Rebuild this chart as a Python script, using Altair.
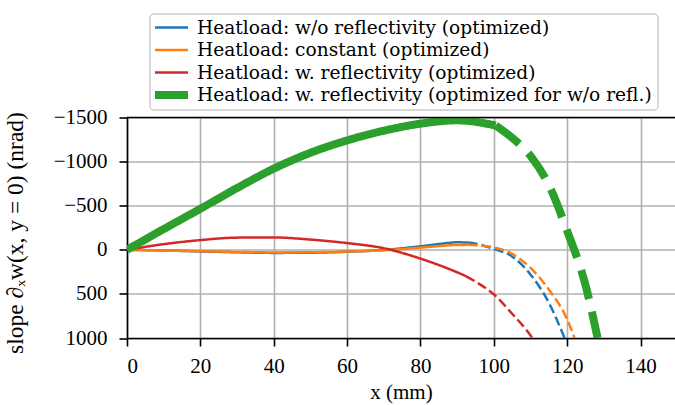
import altair as alt
import pandas as pd

# Series names, colours and line widths
SERIES = [
    "Heatload: w/o reflectivity (optimized)",
    "Heatload: constant (optimized)",
    "Heatload: w. reflectivity (optimized)",
    "Heatload: w. reflectivity (optimized for w/o refl.)",
]
COLORS = ["#1f77b4", "#ff7f0e", "#d62728", "#2ca02c"]
WIDTHS = [2.5, 2.5, 2.5, 8]
THICK = [False, False, False, True]

# Slope profiles along x (mm), values in nrad
blue_x = [0, 10, 20, 30, 40, 50, 60, 70, 80, 85, 90, 93, 95, 100, 105, 110, 115, 119.3]
blue_v = [0, 8, 18, 28, 35, 33, 22, 2, -40, -65, -85, -82, -70, -10, 75, 280, 600, 1000]

orange_x = [0, 10, 20, 30, 40, 50, 60, 70, 80, 85, 90, 93, 95, 100, 105, 110, 115, 120, 122]
orange_v = [0, 8, 16, 24, 30, 28, 20, 5, -25, -42, -55, -56, -52, -27, 45, 205, 450, 790, 1000]

red_x = [0, 10, 20, 30, 40, 50, 60, 70, 80, 90, 92.5, 95, 100, 105, 110, 110.5]
red_v = [0, -64, -110, -138, -140, -116, -76, -18, 100, 255, 300, 360, 505, 725, 970, 1000]

green_x = [0, 10, 20, 30, 40, 50, 60, 70, 80, 90, 100.5, 105, 110, 115, 120, 125, 128.3]
green_v = [0, -235, -465, -700, -920, -1100, -1240, -1350, -1430, -1468, -1410, -1270, -1065, -735, -215, 400, 1000]

# Solid inside the mirror footprint, dashed beyond it
SPLIT = [93, 93, 92.5, 100.5]

X_TICKS = [0, 20, 40, 60, 80, 100, 120, 140]
Y_TICKS = [-1500, -1000, -500, 0, 500, 1000]
X_MAX = 149.4

rows = []
for name, xs, vs, split, thick in zip(
    SERIES,
    [blue_x, orange_x, red_x, green_x],
    [blue_v, orange_v, red_v, green_v],
    SPLIT,
    THICK,
):
    kind = "thick" if thick else "thin"
    for x, v in zip(xs, vs):
        if x <= split:
            rows.append({"series": name, "x": x, "v": v, "style": "solid-" + kind})
        if x >= split:
            rows.append({"series": name, "x": x, "v": v, "style": "dash-" + kind})
df = pd.DataFrame(rows)

color_scale = alt.Scale(domain=SERIES, range=COLORS)
width_scale = alt.Scale(type="ordinal", domain=SERIES, range=WIDTHS)

x_enc = alt.X(
    "x:Q",
    scale=alt.Scale(domain=[0, X_MAX], nice=False, zero=False),
    axis=alt.Axis(values=X_TICKS, title="x (mm)", labelPadding=9,
                  titleX=274, titleY=60, titleBaseline="alphabetic"),
)
y_enc = alt.Y(
    "v:Q",
    scale=alt.Scale(domain=[-1500, 1000], reverse=True, nice=False, zero=False),
    axis=alt.Axis(values=Y_TICKS, format="d", title="slope ∂ₓw(x, y = 0) (nrad)",
                  labelPadding=12, titleX=-105, titleY=115, titleBaseline="alphabetic",
                  titleFontSize=23.5),
)

lines = alt.Chart(df).mark_line(interpolate="monotone", strokeCap="butt", clip=True).encode(
    x=x_enc,
    y=y_enc,
    color=alt.Color("series:N", scale=color_scale, legend=None),
    strokeWidth=alt.StrokeWidth("series:N", scale=width_scale, legend=None),
    strokeDash=alt.StrokeDash(
        "style:N",
        scale=alt.Scale(
            domain=["solid-thin", "dash-thin", "solid-thick", "dash-thick"],
            range=[[1, 0], [9.5, 4], [1, 0], [30, 13]],
        ),
        legend=None,
    ),
)

# Top frame line of the axes box
top = alt.Chart(pd.DataFrame({"x0": [0], "x1": [X_MAX], "y": [-1500]})).mark_rule(
    color="black", strokeWidth=1.6
).encode(x="x0:Q", x2="x1:Q", y="y:Q")

# Legend box above the axes, with one row per series
LEG_LEFT, LEG_RIGHT, LEG_TOP, LEG_BOTTOM = 23, 531, -103.5, -7.5
ROW0, ROW_STEP = -90, 22.5
SYM_X0, SYM_X1, TEXT_X = 28, 61, 70

one = pd.DataFrame({"k": [0]})
legend_layers = [
    alt.Chart(one).mark_rect(
        fill="white", fillOpacity=0.8, stroke="#cccccc", strokeWidth=1.5, cornerRadius=4
    ).encode(
        x=alt.value(LEG_LEFT), x2=alt.value(LEG_RIGHT),
        y=alt.value(LEG_TOP), y2=alt.value(LEG_BOTTOM),
    )
]
for i, name in enumerate(SERIES):
    row = pd.DataFrame({"series": [name]})
    y_i = ROW0 + ROW_STEP * i
    legend_layers.append(
        alt.Chart(row).mark_rule(strokeCap="butt").encode(
            x=alt.value(SYM_X0), x2=alt.value(SYM_X1), y=alt.value(y_i),
            color=alt.Color("series:N", scale=color_scale, legend=None),
            strokeWidth=alt.StrokeWidth("series:N", scale=width_scale, legend=None),
        )
    )
    legend_layers.append(
        alt.Chart(row).mark_text(
            align="left", baseline="middle", font="DejaVu Serif", fontSize=18.6, color="black"
        ).encode(x=alt.value(TEXT_X), y=alt.value(y_i), text="series:N")
    )

chart = (
    alt.layer(lines, top, *legend_layers)
    .properties(
        width=548,
        height=220.5,
        autosize=alt.AutoSizeParams(type="none"),
        padding={"left": 127, "top": 117.5, "right": 0, "bottom": 67},
    )
    .configure_view(stroke=None)
    .configure_axis(
        domainColor="black",
        domainWidth=1.6,
        tickColor="black",
        tickWidth=1.6,
        tickSize=8,
        grid=True,
        gridColor="#b0b0b0",
        gridWidth=1.6,
        labelFont="Liberation Serif",
        labelFontSize=21,
        labelColor="black",
        titleFont="Liberation Serif",
        titleFontSize=21,
        titleFontWeight="normal",
        titleColor="black",
    )
)

chart.save("out.html", embed_options={"renderer": "svg", "actions": False})
